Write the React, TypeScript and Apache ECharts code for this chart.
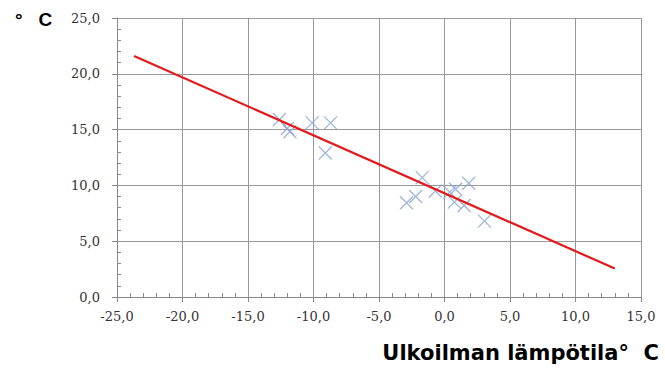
import React, { useEffect, useRef } from "react";
import * as echarts from "echarts";

const xTicks = [-25, 15];
const yTicks = [0, 25];
const measuredX = [-12.6, -12.0, -11.8, -10.1, -8.7, -9.1, -2.9, -2.2, -1.7, -0.7, 0.4, 0.85, 0.75, 1.5, 1.85, 3.05];
const measuredY = [15.9, 15.1, 14.8, 15.6, 15.6, 12.9, 8.45, 9.0, 10.7, 9.5, 9.4, 9.65, 8.5, 8.2, 10.2, 6.8];
const trendX = [-23.7, 13.0];
const trendY = [21.6, 2.55];
const yTitle = "°   C";
const xTitle = "Ulkoilman lämpötila°  C";

const fmt = (v: number) => v.toFixed(1).replace(".", ",");

export default function App() {
  const ref = useRef<HTMLDivElement>(null);
  useEffect(() => {
    if (!ref.current) return;
    const chart = echarts.init(ref.current, null, { renderer: "svg" });
    const labelFont = { fontFamily: "DejaVu Serif", fontSize: 13, color: "#333" };
    chart.setOption({
      animation: false,
      backgroundColor: "#fff",
      grid: { left: 117, right: 24, top: 18, bottom: 71 },
      xAxis: {
        type: "value",
        min: xTicks[0],
        max: xTicks[1],
        interval: 5,
        axisLine: { show: true, onZero: false, lineStyle: { color: "#888", width: 1 } },
        axisTick: { show: true, length: 5, lineStyle: { color: "#888" } },
        minorTick: { show: true, splitNumber: 5, length: -4, lineStyle: { color: "#888" } },
        splitLine: { show: true, lineStyle: { color: "#999", width: 1 } },
        axisLabel: { ...labelFont, margin: 13, formatter: fmt },
      },
      yAxis: {
        type: "value",
        min: yTicks[0],
        max: yTicks[1],
        interval: 5,
        axisLine: { show: true, onZero: false, lineStyle: { color: "#888", width: 1 } },
        axisTick: { show: true, length: 5, lineStyle: { color: "#888" } },
        minorTick: { show: true, splitNumber: 5, length: -4, lineStyle: { color: "#888" } },
        splitLine: { show: true, lineStyle: { color: "#999", width: 1 } },
        axisLabel: { ...labelFont, margin: 17, formatter: fmt },
      },
      graphic: [
        {
          type: "text",
          left: 15,
          top: 10,
          style: { text: yTitle, fontFamily: "Liberation Sans", fontWeight: "bold", fontSize: 19, fill: "#000" },
        },
        {
          type: "text",
          right: 6,
          top: 342,
          style: { text: xTitle, fontFamily: "DejaVu Sans", fontWeight: "bold", fontSize: 21, fill: "#000" },
        },
      ],
      series: [
        {
          type: "scatter",
          data: measuredX.map((x, i) => [x, measuredY[i]]),
          symbol: "path://M0,0L10,10M10,0L0,10",
          symbolSize: 13,
          itemStyle: { color: "transparent", borderColor: "#86a3d3", borderWidth: 1.3 },
          z: 3,
        },
        {
          type: "line",
          data: trendX.map((x, i) => [x, trendY[i]]),
          symbol: "none",
          lineStyle: { color: "#e31a1c", width: 2.2 },
          z: 4,
        },
      ],
    });
    return () => chart.dispose();
  }, []);
  return (
    <div
      ref={ref}
      style={{ position: "absolute", left: 0, top: 0, width: 665, height: 368 }}
    />
  );
}
